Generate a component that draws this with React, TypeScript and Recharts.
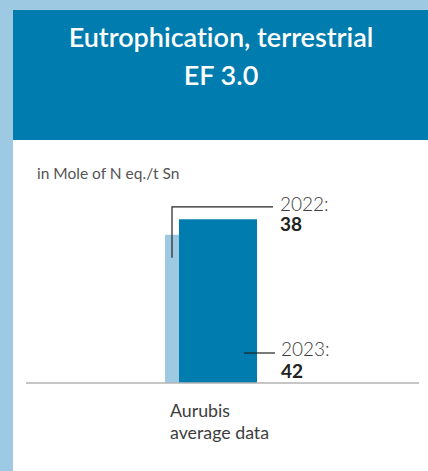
import { BarChart, Bar, XAxis, YAxis, LabelList } from "recharts";

const categories = ["Aurubis\naverage data"];
const years = ["2022", "2023"];
const values2022 = [38];
const values2023 = [42];

const title = ["Eutrophication, terrestrial", "EF 3.0"];
const unit = "in Mole of N eq./t Sn";

const data = categories.map((c, i) => ({
  category: c,
  y2022: values2022[i],
  y2023: values2023[i],
}));

const DARK = "#007DAE";
const LIGHT = "#9DCAE2";
const TEXT = "#3d3d3d";
const FONT = "Lato, 'Open Sans', sans-serif";

function CategoryTick(props: any) {
  const { x, y, payload } = props;
  const lines = String(payload.value).split("\n");
  return (
    <g>
      {lines.map((l: string, i: number) => (
        <text
          key={i}
          x={x - 41}
          y={y + 26 + i * 22}
          fill={TEXT}
          fontSize={17.8}
          fontFamily={FONT}
          textAnchor="start"
        >
          {l}
        </text>
      ))}
    </g>
  );
}

function Label2022(props: any) {
  const { x, y, value } = props;
  const lx = x + 7;
  const ly = y - 28;
  return (
    <g>
      <polyline
        points={`${lx},${y + 23} ${lx},${ly} ${x + 108},${ly}`}
        fill="none"
        stroke="#222"
        strokeWidth={1.2}
      />
      <text x={x + 115} y={y - 24} fill={TEXT} fontSize={19} fontWeight={300} fontFamily={FONT}>
        {years[0]}:
      </text>
      <text x={x + 115} y={y - 3.5} fill="#222" fontSize={19} fontWeight={700} fontFamily={FONT}>
        {value}
      </text>
    </g>
  );
}

function Label2023(props: any) {
  const { x, y, height, value } = props;
  const bottom = y + height;
  return (
    <g>
      <line x1={x + 65} x2={x + 96} y1={bottom - 30} y2={bottom - 30} stroke="#222" strokeWidth={1.2} />
      <text x={x + 102} y={bottom - 27} fill={TEXT} fontSize={19} fontWeight={300} fontFamily={FONT}>
        {years[1]}:
      </text>
      <text x={x + 102} y={bottom - 5} fill="#222" fontSize={19} fontWeight={700} fontFamily={FONT}>
        {value}
      </text>
    </g>
  );
}

export default function App() {
  return (
    <div
      style={{
        position: "absolute",
        left: 0,
        top: 0,
        width: 428,
        height: 471,
        background: LIGHT,
        overflow: "hidden",
        fontVariantLigatures: "none",
      }}
    >
      <div style={{ position: "absolute", left: 13, top: 10, width: 415, height: 130, background: DARK }} />
      <div style={{ position: "absolute", left: 13, top: 140, width: 415, height: 331, background: "#fff" }} />

      <svg width={428} height={471} style={{ position: "absolute", left: 0, top: 0 }}>
        <text x={221} y={47} textAnchor="middle" fill="#fff" fontSize={27} fontWeight={600} fontFamily={FONT}>
          {title[0]}
        </text>
        <text x={221} y={84.5} textAnchor="middle" fill="#fff" fontSize={27} fontWeight={600} fontFamily={FONT}>
          {title[1]}
        </text>
        <text x={37} y={179} fill="#555" fontSize={15.5} fontFamily={FONT}>
          {unit}
        </text>
      </svg>

      <div style={{ position: "absolute", left: 0, top: 0 }}>
        <BarChart
          width={428}
          height={471}
          data={data}
          margin={{ top: 188, right: 9, bottom: 28, left: 26 }}
          barSize={78}
          barGap={-64}
        >
          <YAxis hide domain={[0, 50]} />
          <XAxis
            dataKey="category"
            height={60}
            axisLine={{ stroke: "#b3b3b3", strokeWidth: 1.5 }}
            tickLine={false}
            padding={{ left: 0, right: 23 }}
            tick={<CategoryTick />}
            interval={0}
          />
          <Bar dataKey="y2022" fill={LIGHT} isAnimationActive={false}>
            <LabelList dataKey="y2022" content={<Label2022 />} />
          </Bar>
          <Bar dataKey="y2023" fill={DARK} isAnimationActive={false}>
            <LabelList dataKey="y2023" content={<Label2023 />} />
          </Bar>
        </BarChart>
      </div>
    </div>
  );
}
